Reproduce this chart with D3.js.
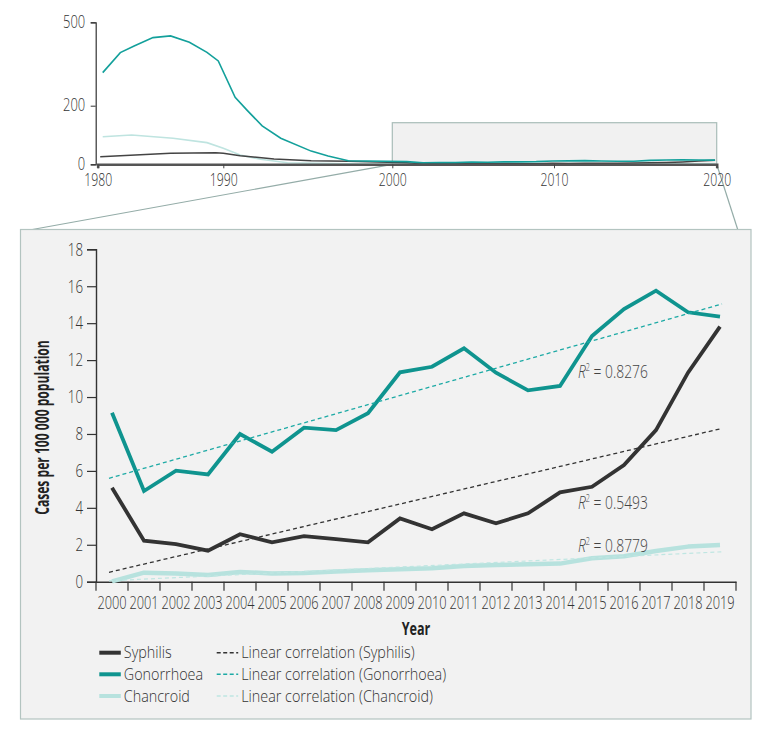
<!DOCTYPE html>
<html><head><meta charset="utf-8">
<script src="https://cdn.jsdelivr.net/npm/d3@7/dist/d3.min.js"></script>
<style>
body{margin:0;background:#fff}
svg text{font-family:"Open Sans","Noto Sans","DejaVu Sans",sans-serif;font-weight:300;fill:#333}
</style>
</head><body>
<svg id="chart" width="771" height="733"></svg>
<script>
// ---------- data ----------
const years = ["2000","2001","2002","2003","2004","2005","2006","2007","2008","2009",
               "2010","2011","2012","2013","2014","2015","2016","2017","2018","2019"];
const syphilis   = [5.09,2.22,2.04,1.68,2.57,2.13,2.47,2.30,2.13,3.43,2.84,3.70,3.16,3.70,4.84,5.14,6.32,8.21,11.32,13.81];
const gonorrhoea = [9.15,4.91,6.01,5.81,8.00,7.04,8.34,8.21,9.12,11.34,11.64,12.64,11.32,10.36,10.60,13.30,14.76,15.76,14.59,14.35];
const chancroid  = [0.02,0.49,0.45,0.36,0.53,0.45,0.47,0.55,0.62,0.67,0.73,0.85,0.90,0.95,0.98,1.27,1.38,1.66,1.90,1.99];
// linear-correlation endpoints (2000, 2019)
const trendSyphilis   = [0.51, 8.30];
const trendGonorrhoea = [5.60, 15.04];
const trendChancroid  = [0.05, 1.62];
const r2Labels = ["0.8276", "0.5493", "0.8779"];
const yTicks = [0,2,4,6,8,10,12,14,16,18];

// overview (1980s-1990s) series, year positions
const gonTopYears  = [1980.4,1981.8,1982.9,1984.4,1985.8,1987.3,1988.7,1989.6,1990.7,1991.4,1992.3,1993.4,1995.2,1996.2,1997.4];
const gonTopValues = [319,391,415,445,451,428,392,361,230,185,131,89,45,28,12];
const chanTopYears  = [1980.4,1982.7,1986.0,1988.7,1990.0,1991.0,1992.2,1993.8,1997.4];
const chanTopValues = [94,100,89,74,55,32,17,5.5,1.5];
const sypTopYears  = [1980.2,1985.8,1989.4,1990.0,1991.0,1993.0,1995.2,1997.4];
const sypTopValues = [26,37.5,39.6,37.5,29.4,18.1,12.3,10.2];
const topYTicks = [0,200,500];
const topXTicks = [1980,1990,2000,2010,2020];

const colors = {syp:"#333333", gon:"#0f948f", chan:"#b7e2de",
                sypTrend:"#333333", gonTrend:"#1daaa5", chanTrend:"#bfe6e2"};

const svg = d3.select("#chart");
const K = 0.74; // horizontal condensing of the text face
function squeeze(sel, k){
  sel.each(function(){
    const w = this.getComputedTextLength();
    d3.select(this).attr("textLength", w*(k||K)).attr("lengthAdjust","spacingAndGlyphs");
  });
}

// ---------- overview chart ----------
const xTop = d3.scaleLinear().domain(topXTicks).range([97.7,223.3,392.3,554,716.7]);
const yTop = d3.scaleLinear().domain([0,200,500]).range([164.3,105.7,22.3]);

// connectors
svg.append("line").attr("x1",xTop(2000)).attr("y1",yTop(0)).attr("x2",32.3).attr("y2",229.5)
  .attr("stroke","#94aca8").attr("stroke-width",1.2);
svg.append("line").attr("x1",xTop(2020)).attr("y1",yTop(0)).attr("x2",737.7).attr("y2",229.5)
  .attr("stroke","#94aca8").attr("stroke-width",1.2);

// zoom box
svg.append("rect").attr("x",xTop(2000)).attr("y",122.7)
  .attr("width",xTop(2020)-xTop(2000)).attr("height",yTop(0)-122.7)
  .attr("fill","#f1f1f1").attr("stroke","#a9bdb9").attr("stroke-width",1.2);

const topLine = d3.line().x(d=>xTop(d[0])).y(d=>yTop(d[1]));
function topSeries(ys, vs, main){
  const pts = ys.map((y,i)=>[y, vs[i]]);
  main.forEach((v,i)=>pts.push([+years[i]+0.9, v]));
  return pts;
}
svg.append("path").datum(topSeries(chanTopYears, chanTopValues, chancroid))
  .attr("d",topLine).attr("fill","none").attr("stroke","#bfe4e0").attr("stroke-width",1.6);
svg.append("path").datum(topSeries(sypTopYears, sypTopValues, syphilis))
  .attr("d",topLine).attr("fill","none").attr("stroke","#444").attr("stroke-width",1.5);
svg.append("path").datum(topSeries(gonTopYears, gonTopValues, gonorrhoea))
  .attr("d",topLine).attr("fill","none").attr("stroke","#13a09b").attr("stroke-width",1.6);

const topYAxis = svg.append("g").attr("transform",`translate(${xTop(1980)-2},0)`)
  .call(d3.axisLeft(yTop).tickValues(topYTicks).tickSize(5).tickPadding(3));
topYAxis.select(".domain").attr("stroke","#333").attr("stroke-width",1.2);
topYAxis.selectAll(".tick line").attr("stroke","#333");
topYAxis.selectAll("text").style("font-size","17.5px").style("fill","#333").attr("dy","0.3em")
  .attr("x",-10.5/K).attr("transform",`scale(${K},1)`);

const TK = 0.7;
const topXAxis = svg.append("g").attr("transform",`translate(0,${yTop(0)})`)
  .call(d3.axisBottom(xTop).tickValues(topXTicks).tickFormat(d3.format("d")).tickSize(4).tickPadding(5));
topXAxis.select(".domain").attr("stroke","#555").attr("stroke-width",2.6);
topXAxis.selectAll(".tick line").attr("stroke","#444");
topXAxis.selectAll("text").style("font-size","17.5px").style("fill","#333").attr("transform",`scale(${TK},1)`);

// ---------- detail panel ----------
svg.append("rect").attr("x",20.5).attr("y",229.5).attr("width",730.5).attr("height",489.5)
  .attr("fill","#f2f2f2").attr("stroke","#b3c4c0").attr("stroke-width",1.2);

const x = d3.scaleBand().domain(years).range([96,736]).padding(0);
const y = d3.scaleLinear().domain([0,18]).range([581.7,249.3]);
const cx = d=>x(d)+x.bandwidth()/2;

// y axis
const yAxis = svg.append("g").attr("transform","translate(96,0)")
  .call(d3.axisLeft(y).tickValues(yTicks).tickSize(9).tickPadding(4));
yAxis.select(".domain").attr("stroke","#333").attr("stroke-width",1.4);
yAxis.selectAll(".tick line").attr("stroke","#333").attr("stroke-width",1.2);
yAxis.selectAll("text").style("font-size","18px").style("fill","#333")
  .attr("x",-13/K).attr("transform",`scale(${K},1)`);

// x axis: labels at band centres, ticks at band edges
const xAxis = svg.append("g").attr("transform",`translate(0,${y(0)})`)
  .call(d3.axisBottom(x).tickSize(0).tickPadding(15));
xAxis.select(".domain").attr("stroke","#333").attr("stroke-width",1.4);
xAxis.selectAll("text").style("font-size","17.8px").style("fill","#333").attr("transform","scale(0.72,1)");
const edges = years.map(d=>x(d)).concat([x.range()[1]]);
svg.append("g").selectAll("line").data(edges).join("line")
  .attr("x1",d=>d).attr("x2",d=>d).attr("y1",y(0)).attr("y2",y(0)+9)
  .attr("stroke","#333").attr("stroke-width",1.2);

// axis titles
svg.append("text").attr("transform",`translate(49,${(y(0)+y(18))/2+12}) rotate(-90)`)
  .attr("text-anchor","middle").style("font-size","19.5px").style("font-weight","bold").style("fill","#222")
  .text("Cases per 100 000 population").call(squeeze, 0.62);
svg.append("text").attr("x",(x.range()[0]+x.range()[1])/2).attr("y",635)
  .attr("text-anchor","middle").style("font-size","18.5px").style("font-weight","bold").style("fill","#222")
  .text("Year").call(squeeze, 0.68);

// data lines
const line = d3.line().x((d,i)=>cx(years[i])).y(d=>y(d));
svg.append("path").datum(chancroid).attr("d",line).attr("fill","none")
  .attr("stroke",colors.chan).attr("stroke-width",4.5).attr("stroke-linejoin","round");
svg.append("path").datum(syphilis).attr("d",line).attr("fill","none")
  .attr("stroke",colors.syp).attr("stroke-width",3.8).attr("stroke-linejoin","miter");
svg.append("path").datum(gonorrhoea).attr("d",line).attr("fill","none")
  .attr("stroke",colors.gon).attr("stroke-width",3.8).attr("stroke-linejoin","miter");

// trend lines
const trendX = [cx(years[0])-3, cx(years[years.length-1])+2];
const trendLine = d3.line().x((d,i)=>trendX[i]).y(d=>y(d));
[[trendSyphilis,colors.sypTrend,1.3],[trendGonorrhoea,colors.gonTrend,1.3],[trendChancroid,colors.chanTrend,1.2]]
 .forEach(([t,c,w])=>{
  svg.append("path").datum(t).attr("d",trendLine).attr("fill","none")
    .attr("stroke",c).attr("stroke-width",w).attr("stroke-dasharray","4,3");
 });

// R² annotations (condensed with a horizontal scale to the reference width)
const r2Pos = [11.05, 3.94, 1.62];
r2Labels.forEach((lab,i)=>{
  const t = svg.append("text").attr("transform",`translate(${x("2015")+2},${y(r2Pos[i])})`)
    .style("font-size","19px").style("fill","#444");
  t.append("tspan").style("font-style","italic").text("R");
  t.append("tspan").attr("dy",-7).style("font-size","10px").text("2");
  t.append("tspan").attr("dy",7).text(" = " + lab);
  const w = t.node().getBBox().width;
  t.attr("transform",`translate(${x("2015")+2},${y(r2Pos[i])}) scale(${70/w},1)`);
});

// legend
const legendItems = [
  {label:"Syphilis", color:colors.syp, w:4, dash:null, col:0, row:0},
  {label:"Gonorrhoea", color:colors.gon, w:4, dash:null, col:0, row:1},
  {label:"Chancroid", color:colors.chan, w:4, dash:null, col:0, row:2},
  {label:"Linear correlation (Syphilis)", color:colors.sypTrend, w:1.4, dash:"4,2.5", col:1, row:0},
  {label:"Linear correlation (Gonorrhoea)", color:colors.gonTrend, w:1.4, dash:"4,2.5", col:1, row:1},
  {label:"Linear correlation (Chancroid)", color:colors.chanTrend, w:1.3, dash:"4,2.5", col:1, row:2}
];
const colX = [99.3, 216.7], rowY = [652.7, 674.3, 696];
const LK = 0.91;
const lg = svg.append("g").selectAll("g").data(legendItems).join("g")
  .attr("transform",d=>`translate(${colX[d.col]},${rowY[d.row]})`);
lg.append("line").attr("x1",0).attr("x2",21.5).attr("y1",0).attr("y2",0)
  .attr("stroke",d=>d.color).attr("stroke-width",d=>d.w).attr("stroke-dasharray",d=>d.dash);
lg.append("text").attr("x",24.5/LK).attr("y",5.6).attr("transform",`scale(${LK},1)`)
  .style("font-size","15.8px").style("fill","#333").text(d=>d.label);
</script>
</body></html>
